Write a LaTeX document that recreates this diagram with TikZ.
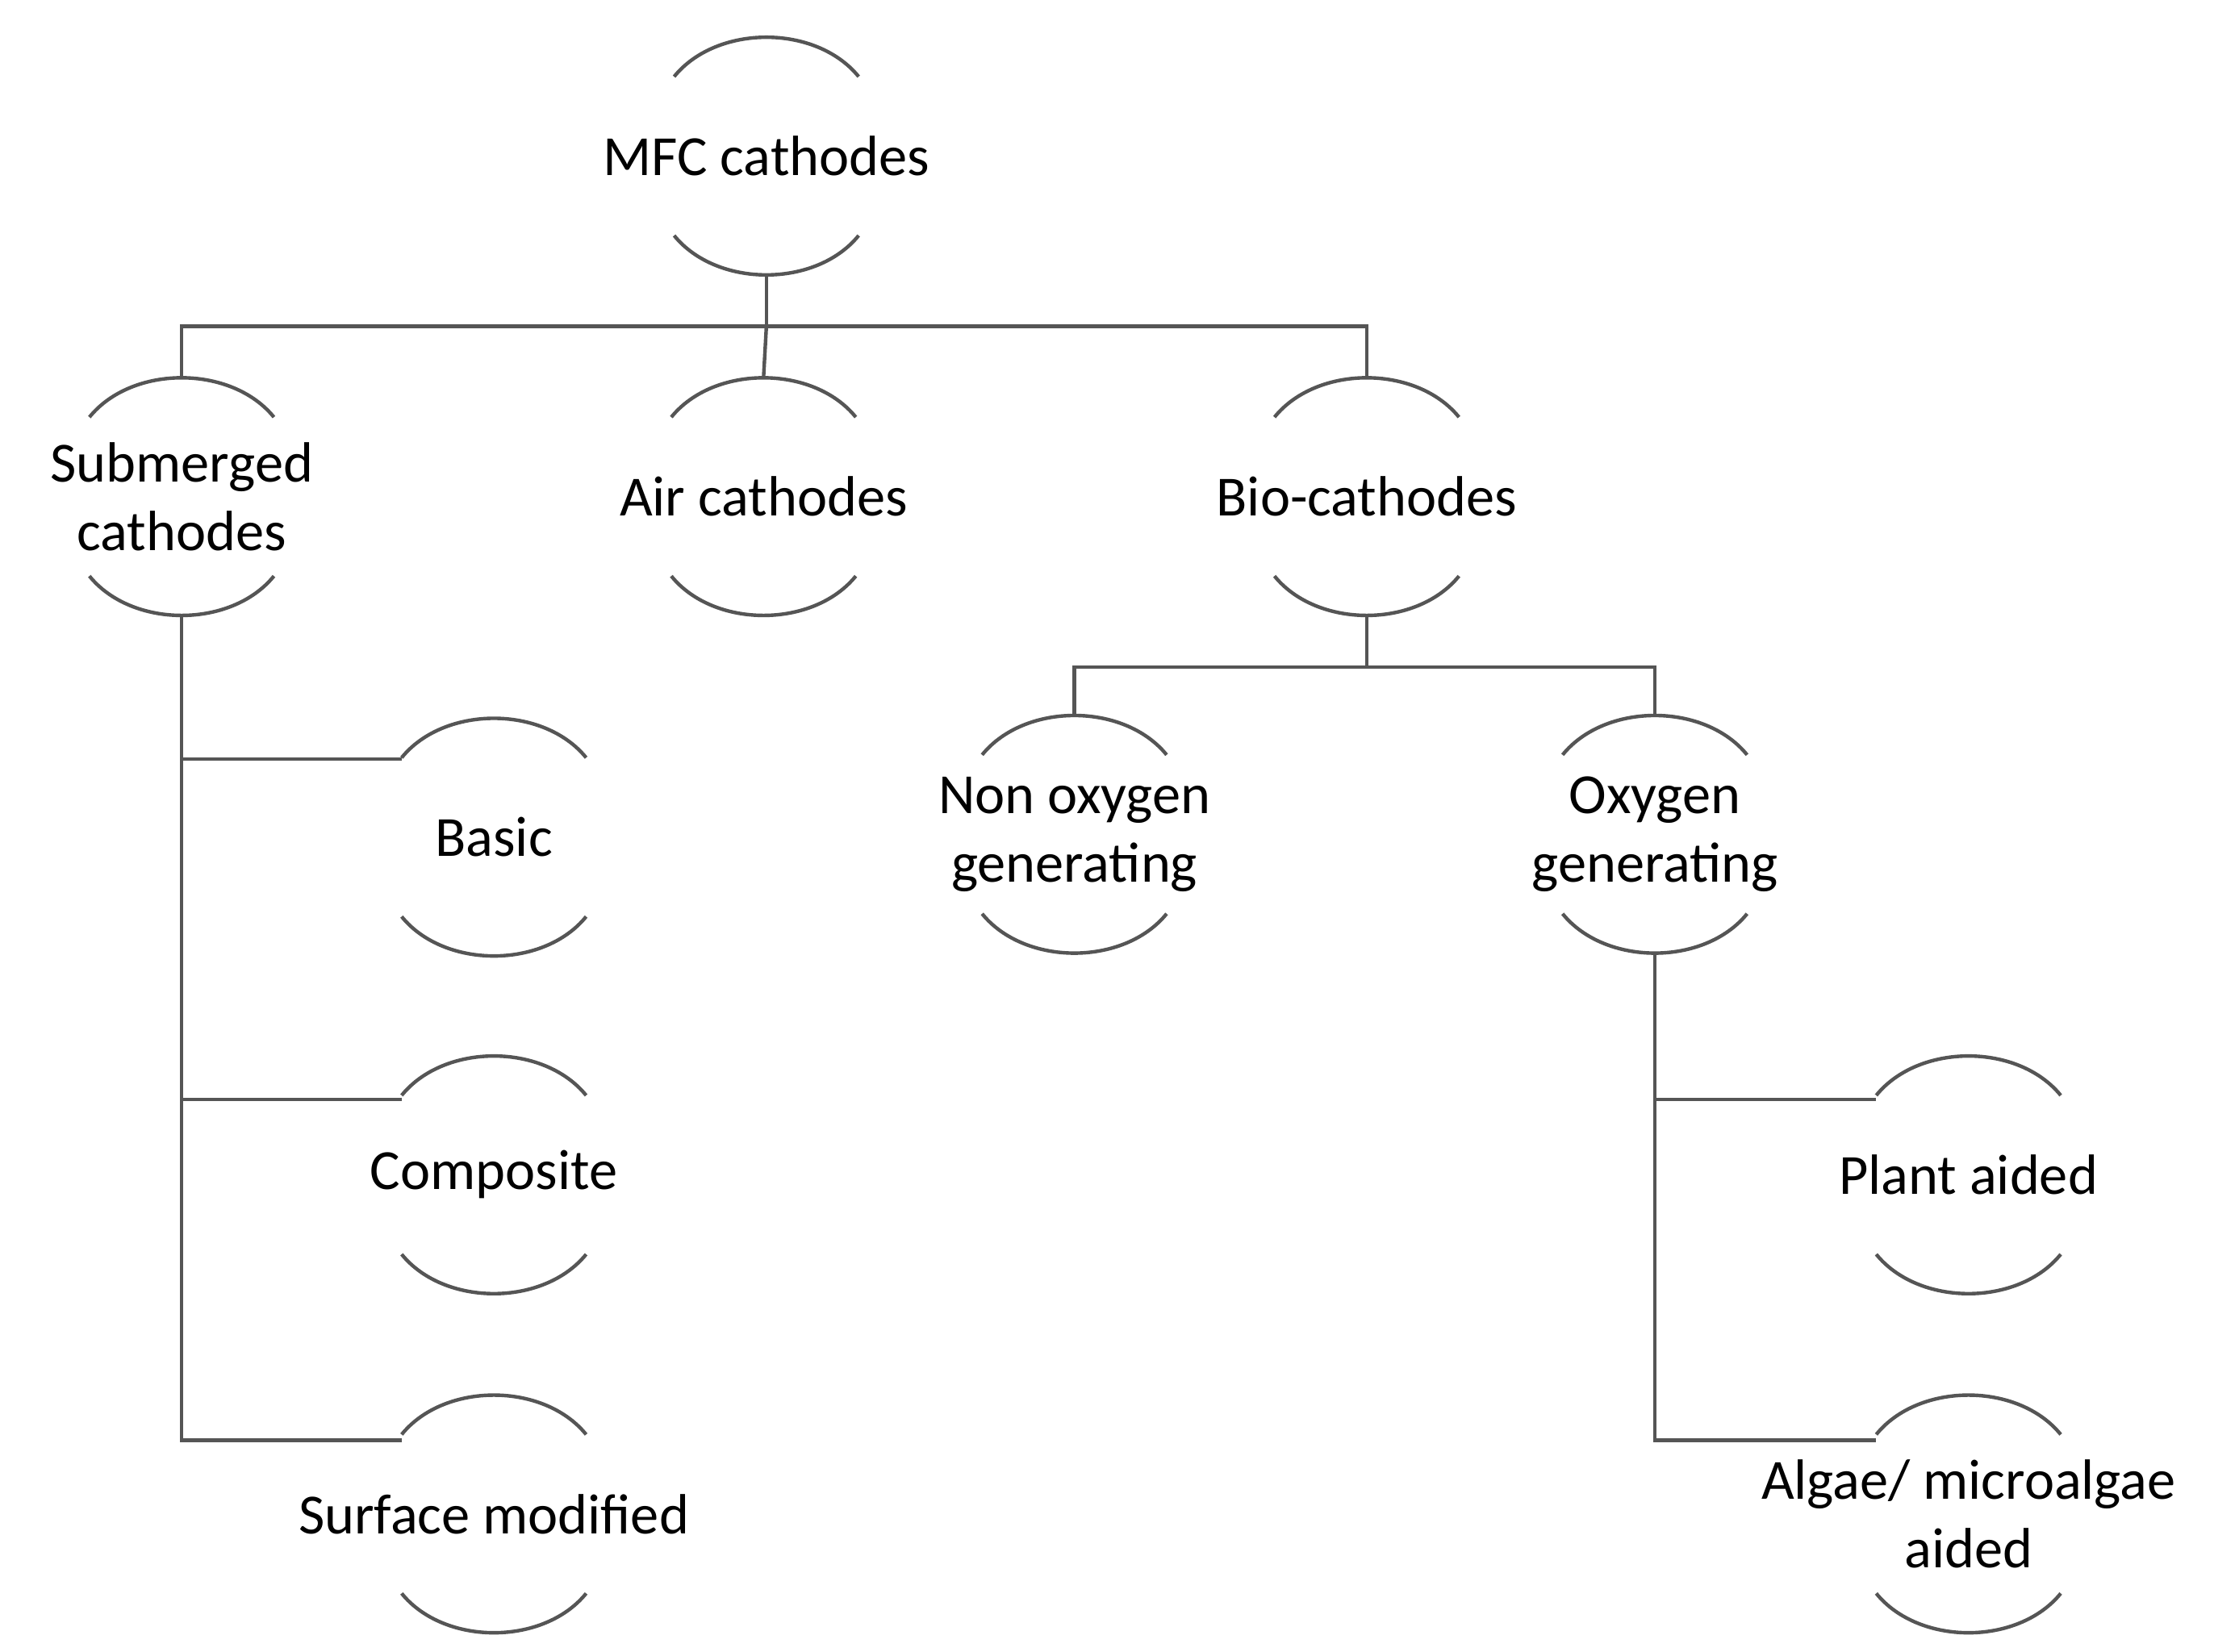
\documentclass[tikz,border=0pt]{standalone}
\usepackage{fontspec}
\setmainfont{Carlito}
\usetikzlibrary{calc}
\definecolor{linegray}{HTML}{555555}
\tikzset{
  box/.style={inner sep=0.75pt,align=center,text=black,font=\fontsize{40}{48}\selectfont},
  link/.style={draw=linegray,line width=2.5pt},
}
% arcs above and below a node
\newcommand{\caps}[1]{%
  \draw[link] ($(#1)+(-65,-56)$) .. controls ($(#1)+(-35,-93)$) and ($(#1)+(35,-93)$) .. ($(#1)+(65,-56)$);
  \draw[link] ($(#1)+(-65,56)$) .. controls ($(#1)+(-35,93)$) and ($(#1)+(35,93)$) .. ($(#1)+(65,56)$);
}
\begin{document}
\begin{tikzpicture}[x=1pt,y=1pt,yscale=-1,xscale=1]
\useasboundingbox (0,0) rectangle (1560,1164);
% Text Node
\node[box] (mfc) at (540,110) {MFC cathodes};
\node[box] (sub) at (128,350) {Submerged\\cathodes};
\node[box] (air) at (538,350) {Air cathodes};
\node[box] (bio) at (963,350) {Bio-cathodes};
\node[box] (basic) at (348,590) {Basic};
\node[box] (comp) at (348,828) {Composite};
\node[box] (surf) at (348,1067) {Surface modified};
\node[box] (nonox) at (757,588) {Non oxygen\\generating};
\node[box] (ox) at (1166,588) {Oxygen\\generating};
\node[box] (plant) at (1387,828) {Plant aided};
\node[box] (algae) at (1387,1067) {Algae/ microalgae\\aided};
\foreach \n in {mfc,sub,air,bio,basic,comp,surf,nonox,ox,plant,algae} {\caps{\n}}
% connectors
\coordinate (mfcbus) at (540,230);
\draw[link] ($(mfc)+(0,84)$) -- (mfcbus);
\draw[link] ($(sub)+(0,-84)$) |- ($(bio)+(0,-120)$) -- ($(bio)+(0,-84)$);
\draw[link] (mfcbus) -- ($(air)+(0,-84)$);
\draw[link] ($(sub)+(0,84)$) |- ($(surf)+(-65,-52)$);
\draw[link] ($(sub)+(0,185)$) -- ($(basic)+(-65,-55)$);
\draw[link] ($(sub)+(0,425)$) -- ($(comp)+(-65,-53)$);
\draw[link] ($(bio)+(0,84)$) -- ($(bio)+(0,120)$);
\draw[link] ($(nonox)+(0,-83)$) |- ($(ox)+(0,-118)$) -- ($(ox)+(0,-83)$);
\draw[link] ($(ox)+(0,85)$) |- ($(algae)+(-65,-52)$);
\draw[link] ($(ox)+(0,187)$) -- ($(plant)+(-65,-53)$);
\end{tikzpicture}
\end{document}
